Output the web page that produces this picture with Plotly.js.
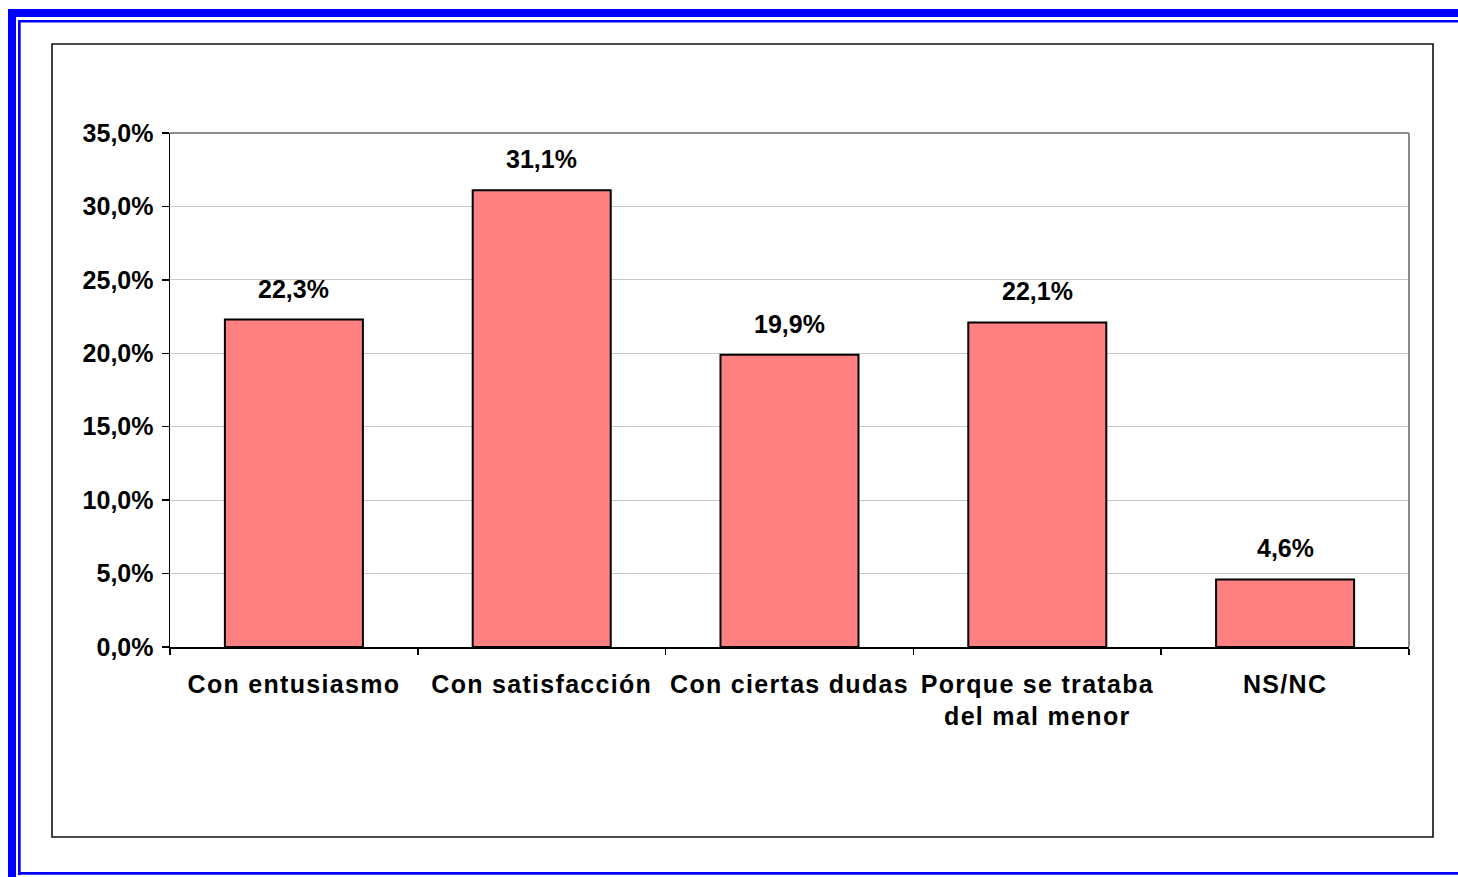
<!DOCTYPE html>
<html>
<head>
<meta charset="utf-8">
<script src="https://cdn.plot.ly/plotly-3.0.1.min.js"></script>
<style>
  html, body { margin: 0; padding: 0; background: #fff; }
  #chart { width: 1458px; height: 877px; }
  .xtick text { letter-spacing: 1.3px; }
</style>
</head>
<body>
<div id="chart"></div>
<script>
const categories = ["Con entusiasmo", "Con satisfacción", "Con ciertas dudas", "Porque se trataba<br>del mal menor", "NS/NC"];
const values = [22.3, 31.1, 19.9, 22.1, 4.6];
const yTicks = [0, 5, 10, 15, 20, 25, 30, 35];

const W = 1458, H = 877;
const L = 170, R = 1409, T = 133, B = 647;
const X = px => (px - L) / (R - L);
const Y = py => (B - py) / (B - T);

const font = { family: "Liberation Sans, Arial, sans-serif", size: 25, color: "#000" };
const fmt = v => v.toFixed(1).replace(".", ",") + "%";

const blue = "#0000ff";
function rect(x0, y0, x1, y1, color) {
  return { type: "rect", xref: "paper", yref: "paper", x0: X(x0), x1: X(x1), y0: Y(y0), y1: Y(y1),
           fillcolor: color, line: { width: 0 }, layer: "above" };
}

const shapes = [
  rect(8, 9, 1470, 17, blue),
  rect(8, 9, 16, 890, blue),
  rect(18, 20, 1470, 22.5, blue),
  rect(18, 20, 20.7, 875, blue),
  rect(18, 872, 1470, 874.7, blue),
  { type: "rect", xref: "paper", yref: "paper", x0: X(52), x1: X(1433), y0: Y(44), y1: Y(837),
    line: { color: "#111", width: 1.6 }, fillcolor: "rgba(0,0,0,0)", layer: "above" },
  { type: "line", xref: "paper", yref: "paper", x0: 0, x1: 1, y0: 1, y1: 1,
    line: { color: "#8c8c8c", width: 2 }, layer: "above" },
  { type: "line", xref: "paper", yref: "paper", x0: 1, x1: 1, y0: 0, y1: 1,
    line: { color: "#8c8c8c", width: 2 }, layer: "above" }
];

const annotations = categories.map((c, i) => ({
  x: c, y: values[i], xref: "x", yref: "y", text: "<b>" + fmt(values[i]) + "</b>",
  showarrow: false, yanchor: "bottom", yshift: 15, font: font
}));

const trace = {
  type: "bar", x: categories, y: values,
  marker: { color: "#ff8080", line: { color: "#000", width: 2 } },
  hoverinfo: "skip"
};

const layout = {
  width: W, height: H,
  margin: { l: L, r: W - R, t: T, b: H - B, pad: 0 },
  paper_bgcolor: "#fff", plot_bgcolor: "#fff",
  showlegend: false,
  bargap: 0.443,
  separators: ",.",
  font: font,
  xaxis: {
    type: "category",
    tickmode: "array",
    tickvals: categories,
    ticktext: categories.map(c => "<b>" + c.replace("<br>", "</b><br><b>") + "</b>"),
    tickfont: font,
    showline: true, linecolor: "#000", linewidth: 1.5,
    ticks: "outside", tickson: "boundaries", ticklen: 6, tickcolor: "#000", tickwidth: 1.5,
    ticklabelstandoff: 14,
    showgrid: false, zeroline: false, fixedrange: true
  },
  yaxis: {
    range: [0, 35],
    tickmode: "array",
    tickvals: yTicks,
    ticktext: yTicks.map(v => "<b>" + fmt(v) + "</b>"),
    tickfont: font,
    showline: true, linecolor: "#000", linewidth: 1.5,
    ticks: "outside", ticklen: 7, tickcolor: "#000", tickwidth: 1.5,
    ticklabelstandoff: 3,
    showgrid: true, gridcolor: "#c8c8c8", gridwidth: 1,
    zeroline: false, fixedrange: true
  },
  shapes: shapes,
  annotations: annotations
};

Plotly.newPlot("chart", [trace], layout, { displayModeBar: false, staticPlot: true });
</script>
</body>
</html>
